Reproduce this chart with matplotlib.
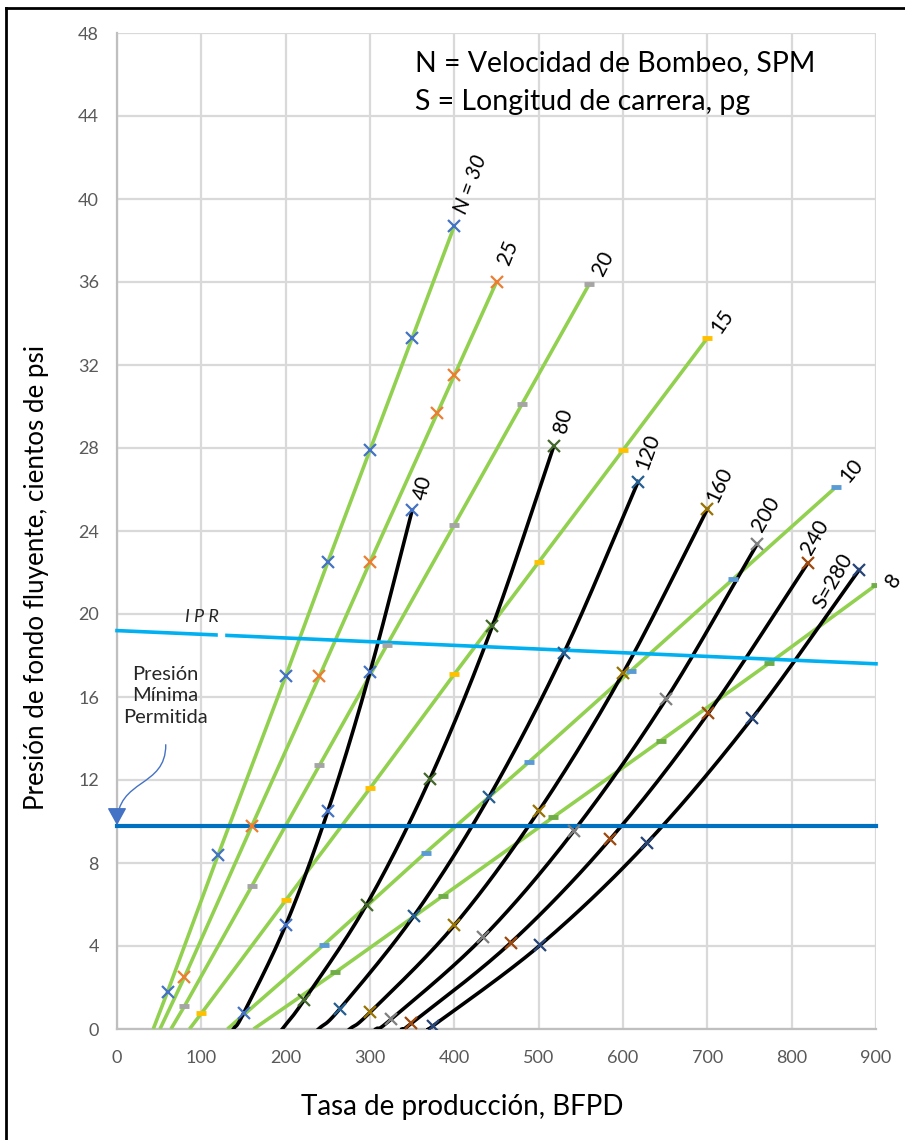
import numpy as np
import matplotlib
matplotlib.use("Agg")
import matplotlib.pyplot as plt
from matplotlib.lines import Line2D
from matplotlib.patches import FancyArrowPatch
from matplotlib.path import Path

plt.rcParams['font.family'] = ['Lato', 'DejaVu Sans']

# ---------------- data ----------------
# Pump speed lines (N, SPM) - straight green lines
n30_x = [43, 60, 120, 200, 250, 300, 350, 400]
n30_y = [0, 1.8, 8.4, 17.0, 22.5, 27.9, 33.3, 38.7]
n25_x = [51, 80, 160, 240, 300, 380, 400, 450]
n25_y = [0, 2.5, 9.8, 17.0, 22.5, 29.7, 31.5, 36.0]
n20_x = [64, 80, 160, 240, 320, 400, 480, 560]
n20_y = [0, 1.1, 6.9, 12.7, 18.5, 24.3, 30.1, 35.9]
n15_x = [86, 100, 200, 300, 400, 500, 600, 700]
n15_y = [0, 0.75, 6.2, 11.6, 17.1, 22.5, 27.9, 33.3]
n10_x = [131, 245, 366, 488, 609, 731, 852]
n10_y = [0, 4.05, 8.5, 12.85, 17.25, 21.7, 26.1]
n8_x = [162, 259, 387, 517, 645, 773, 900]
n8_y = [0, 2.73, 6.43, 10.2, 13.9, 17.62, 21.4]

# Stroke length curves (S, in) - black curves
s40_x = [138, 150, 200, 250, 300, 350]
s40_y = [0, 0.75, 5.0, 10.5, 17.2, 25.0]
s80_x = [196, 222, 296, 371, 445, 518]
s80_y = [0, 1.4, 6.0, 12.05, 19.4, 28.1]
s120_x = [239, 264, 352, 441, 530, 618]
s120_y = [0, 0.96, 5.45, 11.17, 18.14, 26.38]
s160_x = [276, 300, 400, 500, 600, 700]
s160_y = [0, 0.8, 5.0, 10.5, 17.15, 25.05]
s200_x = [307, 325, 434, 542, 651, 759]
s200_y = [0, 0.47, 4.42, 9.56, 15.89, 23.36]
s240_x = [338, 349, 467, 585, 701, 819]
s240_y = [0, 0.27, 4.16, 9.16, 15.21, 22.44]
s280_x = [370, 375, 502, 628, 753, 880]
s280_y = [0, 0.16, 4.05, 8.95, 14.97, 22.12]

# IPR and minimum allowed pressure
ipr_x = [0, 900]
ipr_y = [19.2, 17.6]
pmin_x = [0, 900]
pmin_y = [9.8, 9.8]

x_ticks = [0, 100, 200, 300, 400, 500, 600, 700, 800, 900]
y_ticks = [0, 4, 8, 12, 16, 20, 24, 28, 32, 36, 40, 44, 48]

n_series = [
    (n30_x, n30_y, '#4472C4', 'x', "N = 30"),
    (n25_x, n25_y, '#ED7D31', 'x', "25"),
    (n20_x, n20_y, '#A5A5A5', '_', "20"),
    (n15_x, n15_y, '#FFC000', '_', "15"),
    (n10_x, n10_y, '#5B9BD5', '_', "10"),
    (n8_x, n8_y, '#70AD47', '_', "8"),
]
s_series = [
    (s40_x, s40_y, '#4472C4', "40"),
    (s80_x, s80_y, '#43682B', "80"),
    (s120_x, s120_y, '#255E91', "120"),
    (s160_x, s160_y, '#997300', "160"),
    (s200_x, s200_y, '#7F7F7F', "200"),
    (s240_x, s240_y, '#9E480E', "240"),
    (s280_x, s280_y, '#264478', "S=280"),
]

# label placement (data coords) and rotation
n_label_pos = {"N = 30": (419, 40.7, 70), "25": (464, 37.4, 68), "20": (577, 36.9, 63),
               "15": (718, 34.1, 55), "10": (871, 26.9, 50), "8": (921, 21.6, 55)}
s_label_pos = {"40": (363, 26.1, 76), "80": (529, 29.3, 75), "120": (630, 27.8, 70),
               "160": (714, 26.2, 65), "200": (770, 24.8, 60), "240": (828, 23.7, 60),
               "S=280": (849, 21.6, 60)}


def catmull_rom(xs, ys, n=30):
    """Smooth rendering of a polyline through its points (like Excel's smoothed line)."""
    p = np.column_stack([xs, ys]).astype(float)
    p = np.vstack([2 * p[0] - p[1], p, 2 * p[-1] - p[-2]])
    out = []
    t = np.linspace(0, 1, n)[:, None]
    for i in range(1, len(p) - 2):
        p0, p1, p2, p3 = p[i - 1], p[i], p[i + 1], p[i + 2]
        seg = 0.5 * ((2 * p1) + (-p0 + p2) * t + (2 * p0 - 5 * p1 + 4 * p2 - p3) * t ** 2
                     + (-p0 + 3 * p1 - 3 * p2 + p3) * t ** 3)
        out.append(seg if i == 1 else seg[1:])
    out = np.vstack(out)
    return out[:, 0], out[:, 1]


fig = plt.figure(figsize=(9.05, 11.4), dpi=100)
ax = fig.add_axes([117 / 905, 1 - 1029 / 1140, 759 / 905, 996 / 1140])

ax.set_xlim(0, 900)
ax.set_ylim(0, 48)
ax.set_xticks(x_ticks)
ax.set_yticks(y_ticks)
ax.grid(True, color='#D9D9D9', lw=1.6, zorder=0)
ax.set_axisbelow(True)
for side in ['top', 'right']:
    ax.spines[side].set_visible(False)
for side in ['left', 'bottom']:
    ax.spines[side].set_color('#BFBFBF')
    ax.spines[side].set_linewidth(1.6)
ax.tick_params(length=0, labelsize=13, labelcolor='#595959')
ax.tick_params(axis='x', pad=15)
ax.tick_params(axis='y', pad=13)

# green N lines
for xs, ys, col, mk, lab in n_series:
    ax.plot(xs, ys, color='#92D050', lw=2.6, zorder=3, solid_capstyle='butt')
    if mk == 'x':
        ax.plot(xs[1:], ys[1:], ls='none', marker='x', ms=9, mew=1.6, color=col, zorder=5)
    else:
        ax.plot(xs[1:], ys[1:], ls='none', marker='_', ms=7, mew=3.5, color=col, zorder=5)
    tx, ty, rot = n_label_pos[lab]
    ax.text(tx, ty, lab, rotation=rot, ha='center', va='center', fontsize=15,
            style='italic' if lab.startswith('N') else 'normal', color='black',
            clip_on=False, zorder=6)

# black S curves
for xs, ys, col, lab in s_series:
    cx, cy = catmull_rom(xs, ys)
    ax.plot(cx, cy, color='black', lw=2.6, zorder=4)
    ax.plot(xs[1:], ys[1:], ls='none', marker='x', ms=9, mew=1.6, color=col, zorder=5)
    tx, ty, rot = s_label_pos[lab]
    ax.text(tx, ty, lab, rotation=rot, ha='center', va='center', fontsize=15,
            color='black', clip_on=False, zorder=6)

# IPR line
ax.plot(ipr_x, ipr_y, color='#00B0F0', lw=2.6, zorder=4, clip_on=False)
ax.plot([123], [ipr_y[0] + (ipr_y[1] - ipr_y[0]) * 123 / 900], ls='none', marker='s',
        ms=5, mfc='white', mec='white', zorder=4.5)
ax.text(101, 19.85, "I P R", ha='center', va='center', fontsize=13, style='italic',
        color='#262626', zorder=6)

# minimum pressure line
ax.plot(pmin_x, pmin_y, color='#0070C0', lw=3, zorder=4, clip_on=False)

ax.text(57, 16.05, "Presión\nMínima\nPermitida", ha='center', va='center', fontsize=14.5,
        color='#262626', linespacing=1.3, zorder=6)

arrow_path = Path([(57.8, 13.7), (58.1, 11.6), (0, 12.1), (0, 9.82)],
                  [Path.MOVETO, Path.CURVE4, Path.CURVE4, Path.CURVE4])
arr = FancyArrowPatch(path=arrow_path, arrowstyle='-|>,head_length=0.6,head_width=0.33',
                      mutation_scale=18, color='#4472C4', lw=1.0, zorder=7, clip_on=False,
                      shrinkA=0, shrinkB=0)
ax.add_patch(arr)

ax.text(0.393, 0.970, "N = Velocidad de Bombeo, SPM", transform=ax.transAxes, fontsize=20.5,
        ha='left', va='center', color='black')
ax.text(0.393, 0.931, "S = Longitud de carrera, pg", transform=ax.transAxes, fontsize=20.5,
        ha='left', va='center', color='black')

fig.text(462 / 905, 1 - 1107 / 1140, "Tasa de producción, BFPD", fontsize=20,
         ha='center', va='center', color='black')
fig.text(37 / 905, 1 - 578 / 1140, "Presión de fondo fluyente, cientos de psi", fontsize=18.7,
         rotation=90, ha='center', va='center', color='black')

# outer frame (top and left edges)
fig.add_artist(Line2D([6 / 905, 1.0], [1 - 8 / 1140, 1 - 8 / 1140], color='black', lw=2,
                      transform=fig.transFigure))
fig.add_artist(Line2D([6 / 905, 6 / 905], [0, 1 - 8 / 1140], color='black', lw=2,
                      transform=fig.transFigure))

fig.savefig("out.png", dpi=100)
